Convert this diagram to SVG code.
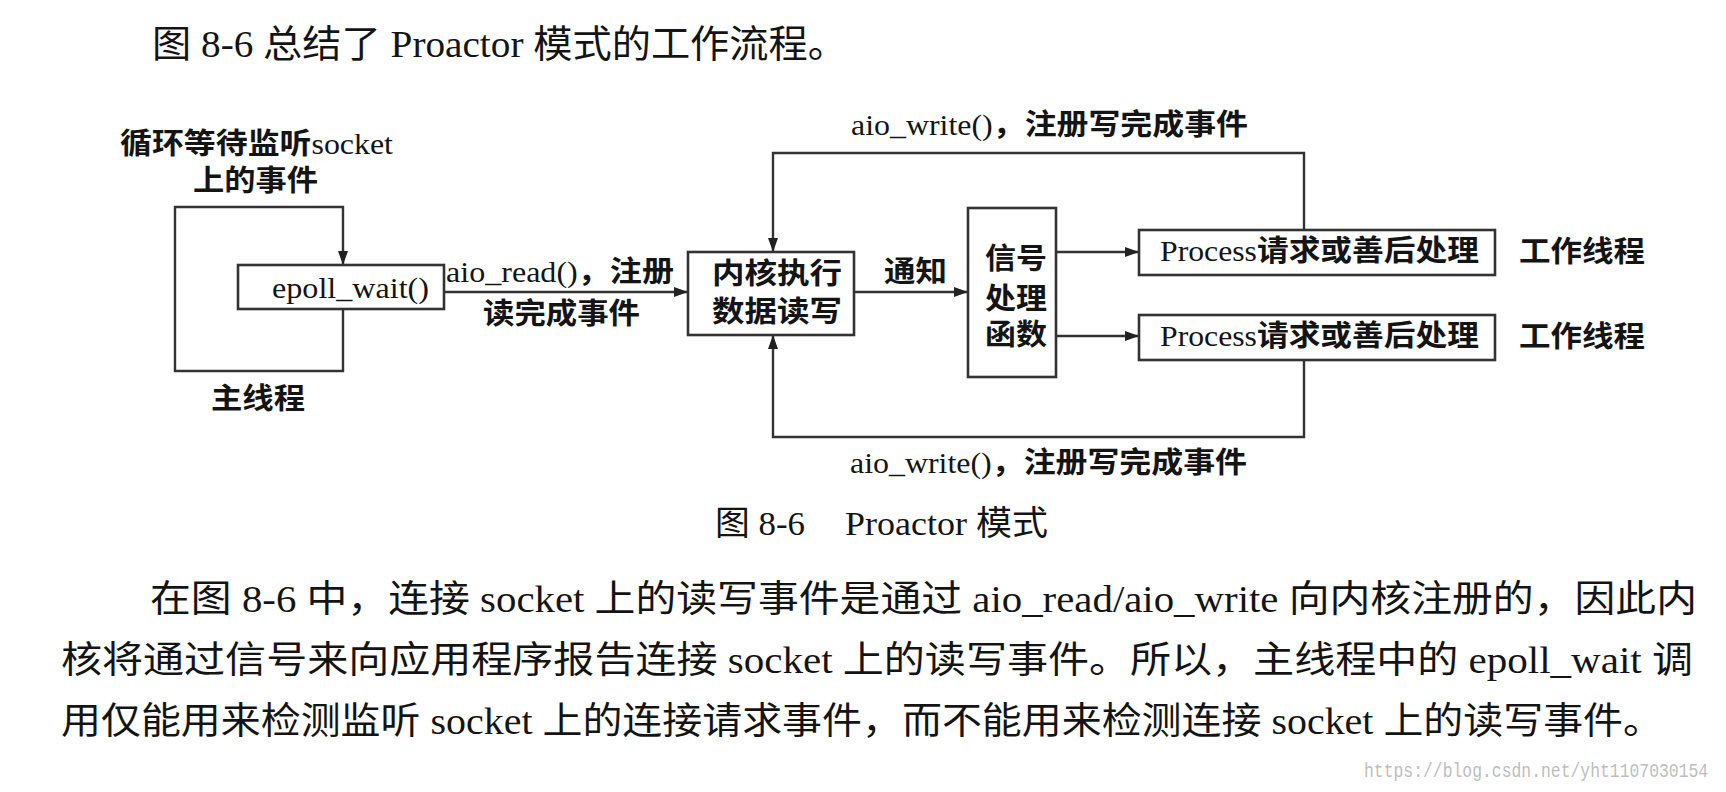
<svg xmlns="http://www.w3.org/2000/svg" width="1726" height="792" viewBox="0 0 1726 792">
<defs>
<style>
.t{font-family:'Liberation Serif','Noto Sans CJK SC',serif;fill:#141414;}
.b{font-weight:700;}
.lbl{font-size:29px;}
.para{font-size:37px;}
.box{fill:#fff;stroke:#333;stroke-width:2.6;}
.edge{fill:none;stroke:#333;stroke-width:2.4;}
.wm{font-family:'Liberation Mono',monospace;font-size:16.4px;fill:#bdbdbd;}
</style>
<marker id="ah" markerWidth="14" markerHeight="10" refX="14" refY="5" orient="auto" markerUnits="userSpaceOnUse">
<path d="M0,0 L14,5 L0,10 z" fill="#222"/>
</marker>
</defs>
<rect width="1726" height="792" fill="#fff"/>

<g id="title">
<text class="t" x="152" y="57" font-size="38" textLength="695" lengthAdjust="spacingAndGlyphs">图 8-6 总结了 Proactor 模式的工作流程。</text>
</g>

<g id="connectors">
<path class="edge" d="M343,309 L343,371 L175,371 L175,207 L343,207 L343,265" marker-end="url(#ah)"/>
<path class="edge" d="M444,292 L688,292" marker-end="url(#ah)"/>
<path class="edge" d="M854,292 L968,292" marker-end="url(#ah)"/>
<path class="edge" d="M1056,252 L1139,252" marker-end="url(#ah)"/>
<path class="edge" d="M1056,336 L1139,336" marker-end="url(#ah)"/>
<path class="edge" d="M1304,230 L1304,153 L773,153 L773,252" marker-end="url(#ah)"/>
<path class="edge" d="M1304,360 L1304,437 L773,437 L773,335" marker-end="url(#ah)"/>
</g>

<g id="edge-labels">
<text class="t lbl" x="120" y="154" textLength="273" lengthAdjust="spacingAndGlyphs"><tspan class="b">循环等待监听</tspan>socket</text>
<text class="t lbl b" x="193" y="191" textLength="125" lengthAdjust="spacingAndGlyphs">上的事件</text>
<text class="t lbl b" x="211" y="409" textLength="94" lengthAdjust="spacingAndGlyphs">主线程</text>
<text class="t lbl" x="446" y="282" textLength="228" lengthAdjust="spacingAndGlyphs">aio_read()<tspan class="b">，注册</tspan></text>
<text class="t lbl b" x="483" y="324" textLength="157" lengthAdjust="spacingAndGlyphs">读完成事件</text>
<text class="t lbl b" x="884" y="282" textLength="63" lengthAdjust="spacingAndGlyphs">通知</text>
<text class="t lbl" x="851" y="135" textLength="397" lengthAdjust="spacingAndGlyphs">aio_write()<tspan class="b">，注册写完成事件</tspan></text>
<text class="t lbl" x="850" y="473" textLength="397" lengthAdjust="spacingAndGlyphs">aio_write()<tspan class="b">，注册写完成事件</tspan></text>
</g>

<g id="node-epoll">
<rect class="box" x="238" y="265" width="206" height="44"/>
<text class="t lbl" x="272" y="298" textLength="157" lengthAdjust="spacingAndGlyphs">epoll_wait()</text>
</g>

<g id="node-kernel">
<rect class="box" x="688" y="252" width="166" height="83"/>
<text class="t lbl b" x="712" y="284" textLength="130" lengthAdjust="spacingAndGlyphs">内核执行</text>
<text class="t lbl b" x="712" y="322" textLength="130" lengthAdjust="spacingAndGlyphs">数据读写</text>
</g>

<g id="node-signal">
<rect class="box" x="968" y="208" width="88" height="169"/>
<text class="t lbl b" x="985" y="269" textLength="62" lengthAdjust="spacingAndGlyphs">信号</text>
<text class="t lbl b" x="985" y="309" textLength="62" lengthAdjust="spacingAndGlyphs">处理</text>
<text class="t lbl b" x="985" y="345" textLength="62" lengthAdjust="spacingAndGlyphs">函数</text>
</g>

<g id="node-process1">
<rect class="box" x="1139" y="230" width="356" height="45"/>
<text class="t lbl" x="1160" y="261" textLength="319" lengthAdjust="spacingAndGlyphs">Process<tspan class="b">请求或善后处理</tspan></text>
</g>

<g id="node-process2">
<rect class="box" x="1139" y="315" width="356" height="45"/>
<text class="t lbl" x="1160" y="346" textLength="319" lengthAdjust="spacingAndGlyphs">Process<tspan class="b">请求或善后处理</tspan></text>
</g>

<g id="worker-labels">
<text class="t lbl b" x="1519" y="262" textLength="126" lengthAdjust="spacingAndGlyphs">工作线程</text>
<text class="t lbl b" x="1519" y="347" textLength="126" lengthAdjust="spacingAndGlyphs">工作线程</text>
</g>

<g id="caption">
<text class="t" x="715" y="535" font-size="34" textLength="90" lengthAdjust="spacingAndGlyphs">图 8-6</text>
<text class="t" x="845" y="535" font-size="34" textLength="203" lengthAdjust="spacingAndGlyphs">Proactor 模式</text>
</g>

<g id="paragraph">
<text class="t para" x="150" y="612" textLength="1547" lengthAdjust="spacingAndGlyphs">在图 8-6 中，连接 socket 上的读写事件是通过 aio_read/aio_write 向内核注册的，因此内</text>
<text class="t para" x="61" y="673" textLength="1632" lengthAdjust="spacingAndGlyphs">核将通过信号来向应用程序报告连接 socket 上的读写事件。所以，主线程中的 epoll_wait 调</text>
<text class="t para" x="61" y="734" textLength="1602" lengthAdjust="spacingAndGlyphs">用仅能用来检测监听 socket 上的连接请求事件，而不能用来检测连接 socket 上的读写事件。</text>
</g>

<g id="watermark">
<text class="wm" transform="translate(1364,777) scale(1,1.25)" x="0" y="0">https://blog.csdn.net/yht1107030154</text>
</g>
</svg>
